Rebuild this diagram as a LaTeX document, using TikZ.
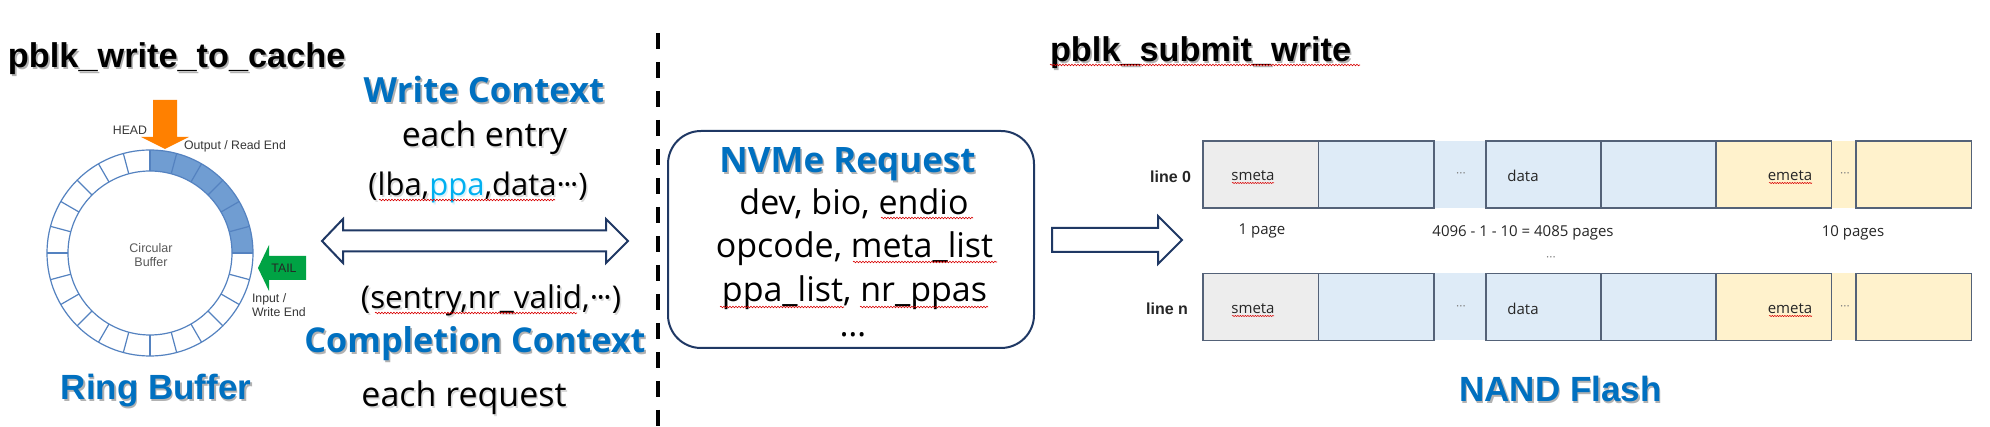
\documentclass[tikz,border=0pt]{standalone}
\usepackage{fontspec}
\setmainfont{Liberation Sans}
\newfontfamily\osans{Open Sans}
\usetikzlibrary{calc,decorations.pathmorphing}
\definecolor{titleblue}{RGB}{0,112,192}
\definecolor{ppablue}{RGB}{0,176,240}
\definecolor{navy}{RGB}{31,56,100}
\definecolor{ringfill}{RGB}{112,157,210}
\definecolor{ringline}{RGB}{84,130,192}
\definecolor{headorange}{RGB}{255,128,0}
\definecolor{tailgreen}{RGB}{0,163,68}
\definecolor{smetagray}{RGB}{237,237,237}
\definecolor{datablue}{RGB}{222,235,247}
\definecolor{emetayellow}{RGB}{255,242,204}
\definecolor{cellborder}{RGB}{84,98,120}
\definecolor{labelgray}{RGB}{38,38,38}
\definecolor{smallgray}{RGB}{55,55,55}
\newcommand\mdots{\textperiodcentered\kern-1.5pt\textperiodcentered\kern-1.5pt\textperiodcentered}
\newcommand\sdots{\textperiodcentered\textperiodcentered\textperiodcentered}
\newcommand\shnode[5][0.3]{%
  \node[#3, text=black, text opacity=#1] (#2-sh) at ($(#4)+(1.6,1.8)$) {#5};
  \node[#3] (#2) at (#4) {#5};}
\begin{document}
\begin{tikzpicture}[x=1pt,y=-1pt,
  every node/.style={inner sep=0pt, outer sep=0pt},
  ttl/.style={font=\bfseries\fontsize{34.3}{40}\selectfont, anchor=base west},
  bluettl/.style={font=\osans\bfseries\fontsize{#1}{40}\selectfont, text=titleblue, anchor=base},
  arialttl/.style={font=\bfseries\fontsize{#1}{40}\selectfont, text=titleblue, anchor=base},
  body/.style={font=\osans\fontsize{#1}{40}\selectfont, text=black, anchor=base},
  small/.style={font=\fontsize{12.3}{14}\selectfont, text=smallgray},
  cell/.style={draw=cellborder, line width=1.3pt, minimum width=115.3pt, minimum height=67pt},
  gapcell/.style={minimum width=52pt, minimum height=67pt},
  lbl/.style={font=\osans\fontsize{15}{18}\selectfont, text=labelgray},
  linelbl/.style={font=\bfseries\fontsize{16}{18}\selectfont, text=labelgray, anchor=east},
  squig/.style={draw=red!85!black, line width=0.6pt, decorate, decoration={snake, amplitude=0.8pt, segment length=3pt}},
  blockarrow/.style={draw=navy, line width=2pt, fill=white, line join=miter},
  ringl/.style={draw=ringline, line width=1.2pt},
]
\fill[white] (0,0) rectangle (1990,427);
\useasboundingbox (0,0) rectangle (1990,427);

% ---------- titles ----------
\shnode{t1}{ttl}{8,68}{pblk\_write\_to\_cache}
\shnode{t2}{ttl}{1050,62}{pblk\_submit\_write}
\draw[squig] (1050,65) -- (1360,65);

% ---------- ring buffer ----------
\coordinate (ringc) at (150,253);
\fill[ringfill] ($(ringc)+(-90:103)$) arc[start angle=-90,end angle=0,radius=103]
   -- ($(ringc)+(0:82)$) arc[start angle=0,end angle=-90,radius=82] -- cycle;
\draw[ringl] (ringc) circle[radius=103];
\draw[ringl] (ringc) circle[radius=82];
\foreach \a in {0,15,...,345}
  \draw[ringl] ($(ringc)+(\a:82)$) -- ($(ringc)+(\a:103)$);
\node[small, align=center, text=gray!70!black, font=\fontsize{12.5}{14}\selectfont] (cb) at (151,255) {Circular\\Buffer};

% HEAD arrow
\fill[headorange] (153,100) -- (177,100) -- (177,137) -- (189,137) -- (165,149)
   -- (141,137) -- (153,137) -- cycle;
\node[small] (head) at (130,130) {HEAD};
\node[small, anchor=west] (outp) at (184,146) {Output / Read End};
% TAIL arrow
\fill[tailgreen] (306,256) -- (306,280) -- (269,280) -- (269,291) -- (258,268)
   -- (269,245) -- (269,256) -- cycle;
\node[small, text=black!85] (tail) at (284,268) {TAIL};
\node[small, anchor=west] (inp1) at (252,299) {Input /};
\node[small, anchor=west] (inp2) at (252,312) {Write End};

\shnode{rb}{arialttl=35}{156,400}{Ring Buffer}

% ---------- contexts ----------
\shnode{wc}{bluettl=34.7}{484,103}{Write Context}
\shnode[0.15]{ee}{body=33.7}{484.5,147}{each entry}
\shnode[0.15]{lba}{body=31}{478,196}{(lba,{\color{ppablue}ppa},data\mdots)}
\draw[squig] (379,200) -- (555,200);

\coordinate (dl) at (322,241);
\coordinate (dr) at (628,241);
\draw[blockarrow] (dl) -- ++(21,-22) -- ++(0,11.5) -- ($(dr)+(-22,-10.5)$) -- ++(0,-11.5)
   -- (dr) -- ++(-22,22) -- ++(0,-11.5) -- ($(dl)+(21,10.5)$) -- ++(0,11.5) -- cycle;

\shnode[0.15]{sen}{body=31.3}{491,309}{(sentry,nr\_valid,\mdots)}
\draw[squig] (375,313) -- (577,313);
\shnode{cc}{bluettl=34.2}{475,353}{Completion Context}
\shnode[0.15]{er}{body=34}{464,407}{each request}

% ---------- dashed separator ----------
\coordinate (dtop) at (658,33);
\coordinate (dbot) at (658,427);
\draw[line width=4pt, dash pattern=on 16pt off 13pt] (dtop) -- (dbot);

% ---------- NVMe request ----------
\node[draw=navy, line width=2pt, rounded corners=33pt, minimum width=366pt, minimum height=217pt] (nvme) at (851,239.5) {};
\shnode{nr}{bluettl=35}{847.5,173}{NVMe Request}
\node[body=34] (l1) at (854,215) {dev, bio, endio};
\node[body=34] (l2) at (854.5,258) {opcode, meta\_list};
\node[body=34] (l3) at (854.5,302) {ppa\_list, nr\_ppas};
\node[body=34] (l4) at (853,337) {…};
\draw[squig] (881,218) -- (973,218);
\draw[squig] (853,262) -- (997,262);
\draw[squig] (720,307) -- (844,307);
\draw[squig] (860,307) -- (988,307);

% forward arrow
\coordinate (fs) at ($(nvme.east)+(18,0.5)$);
\coordinate (ft) at (1182,240);
\draw[blockarrow] ($(fs)+(0,-12)$) -- ($(ft)+(-24,-12)$) -- ++(0,-12) -- (ft) -- ++(-24,24)
   -- ++(0,-12) -- ($(fs)+(0,12)$) -- cycle;

% ---------- NAND flash ----------
\foreach \r/\y in {0/174.5, n/307}{
  \node[gapcell, fill=datablue] (g1\r) at (1460,\y) {};
  \node[gapcell, fill=emetayellow, minimum width=25pt] (g2\r) at (1843.5,\y) {};
  \node[cell, fill=smetagray] (c1\r) at (1260.75,\y) {};
  \node[cell, fill=datablue] (c2\r) at (1376.25,\y) {};
  \node[cell, fill=datablue] (c3\r) at (1543.5,\y) {};
  \node[cell, fill=datablue] (c4\r) at (1658.5,\y) {};
  \node[cell, fill=emetayellow] (c5\r) at (1773.5,\y) {};
  \node[cell, fill=emetayellow] (c6\r) at (1913.5,\y) {};
}
\foreach \r/\y in {0/176, n/309}{
  \node[lbl] (sm\r) at (1253,\y) {smeta};
  \node[lbl] (da\r) at (1523,\y) {data};
  \node[lbl] (em\r) at (1790,\y) {emeta};
  \node[lbl, font=\osans\fontsize{12}{14}\selectfont, text=gray] (d1\r) at (1461,\y-1) {\sdots};
  \node[lbl, font=\osans\fontsize{12}{14}\selectfont, text=gray] (d2\r) at (1845,\y-1) {\sdots};
  \draw[squig, line width=0.5pt, decoration={amplitude=0.6pt, segment length=2.5pt}] (1232,\y+7) -- (1274,\y+7);
  \draw[squig, line width=0.5pt, decoration={amplitude=0.6pt, segment length=2.5pt}] (1769,\y+7) -- (1812,\y+7);
}
\node[linelbl] (ln0) at (1191,177) {line 0};
\node[linelbl] (lnn) at (1188,309) {line n};
\node[lbl, anchor=base] (p1) at (1262,235) {1 page};
\node[lbl, anchor=base] (p2) at (1523,237) {4096 - 1 - 10 = 4085 pages};
\node[lbl, anchor=base] (p3) at (1853,237) {10 pages};
\node[lbl, font=\osans\fontsize{12}{14}\selectfont, text=gray] (vd) at (1551,259) {\sdots};

\shnode{nf}{arialttl=35}{1560.5,402}{NAND Flash}
\end{tikzpicture}
\end{document}
